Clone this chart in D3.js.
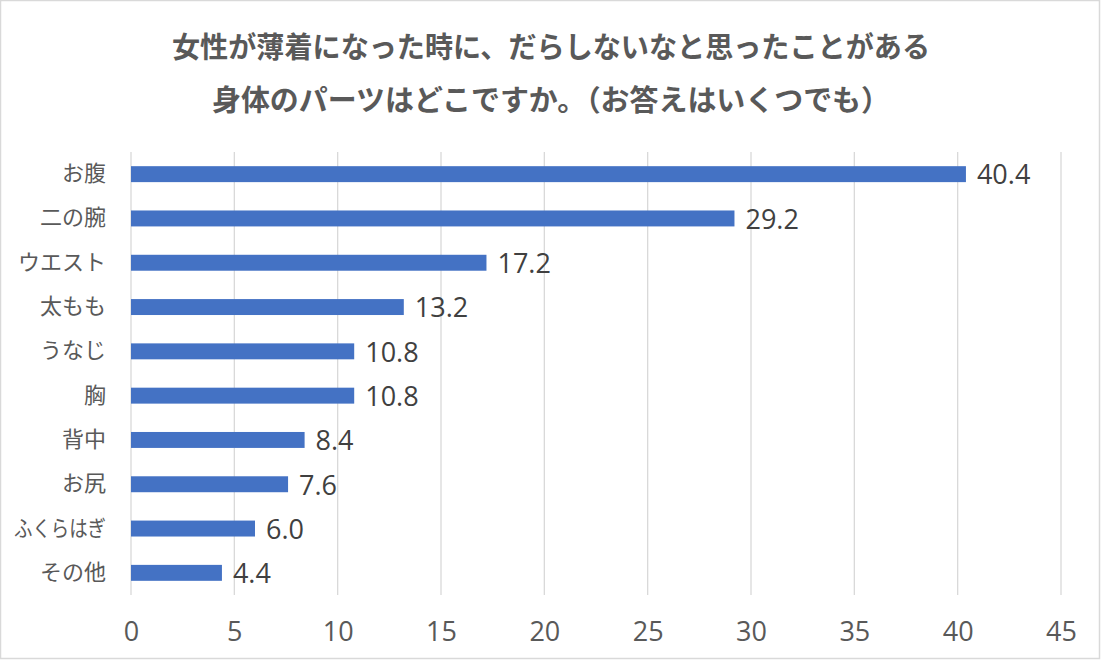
<!DOCTYPE html>
<html><head><meta charset="utf-8">
<script src="https://cdn.jsdelivr.net/npm/d3@7"></script>
<style>html,body{margin:0;padding:0;background:#fff;}svg{display:block;}</style>
</head><body>
<script>
const titleLines = ["女性が薄着になった時に、だらしないなと思ったことがある", "身体のパーツはどこですか。（お答えはいくつでも）"];
const categories = ["お腹","二の腕","ウエスト","太もも","うなじ","胸","背中","お尻","ふくらはぎ","その他"];
const values = [40.4,29.2,17.2,13.2,10.8,10.8,8.4,7.6,6.0,4.4];
const xTicks = [0,5,10,15,20,25,30,35,40,45];

const W = 1101, H = 660;
const svg = d3.select("body").append("svg").attr("width", W).attr("height", H);
svg.append("rect").attr("x",0.5).attr("y",0.5).attr("width",W-2).attr("height",H-2)
  .attr("fill","#fff").attr("stroke","#d9d9d9").attr("stroke-width",1.5);

const jp = "'Noto Sans CJK JP','Noto Sans',sans-serif";
const num = "'Open Sans','Noto Sans',sans-serif";

const titleWidths = [758, 678];
svg.selectAll("text.title").data(titleLines).join("text").attr("class","title")
  .attr("x",551).attr("y",(d,i)=>58+i*53).attr("text-anchor","middle")
  .attr("font-family",jp).attr("font-weight",700).attr("font-size",29)
  .attr("textLength",(d,i)=>titleWidths[i]).attr("lengthAdjust","spacingAndGlyphs")
  .attr("fill","#595959").text(d=>d);

const x = d3.scaleLinear().domain([0,45]).range([131,1061]);
const y = d3.scaleBand().domain(categories).range([152,595]).paddingInner(0.64).paddingOuter(0.32);

svg.append("g").selectAll("line").data(xTicks).join("line")
  .attr("x1",d=>x(d)).attr("x2",d=>x(d)).attr("y1",152).attr("y2",595)
  .attr("stroke","#d9d9d9").attr("stroke-width",1.3);

const xAxis = svg.append("g").attr("transform","translate(0,595)")
  .call(d3.axisBottom(x).tickValues(xTicks).tickSize(0).tickPadding(27).tickFormat(d3.format("d")));
xAxis.select(".domain").remove();
xAxis.selectAll("text").attr("font-family",num).attr("font-size",27).attr("fill","#595959");

const yAxis = svg.append("g").attr("transform","translate(131,0)")
  .call(d3.axisLeft(y).tickSize(0).tickPadding(25));
yAxis.select(".domain").remove();
yAxis.selectAll("text").attr("font-family",jp).attr("font-size",22).attr("fill","#595959")
  .each(function(){
    const len = this.getComputedTextLength();
    if (len > 92) d3.select(this).attr("textLength",92).attr("lengthAdjust","spacingAndGlyphs");
  });

svg.append("g").selectAll("text").data(values).join("text")
  .attr("x",d=>x(d)+11).attr("y",(d,i)=>y(categories[i])+y.bandwidth()/2)
  .attr("dy","0.38em").attr("font-family",num).attr("font-size",27).attr("fill","#404040")
  .text(d=>d3.format(".1f")(d));

svg.append("g").selectAll("rect").data(values).join("rect")
  .attr("x",x(0)).attr("y",(d,i)=>y(categories[i])).attr("width",d=>x(d)-x(0))
  .attr("height",y.bandwidth()).attr("fill","#4472C4");
</script>
</body></html>
